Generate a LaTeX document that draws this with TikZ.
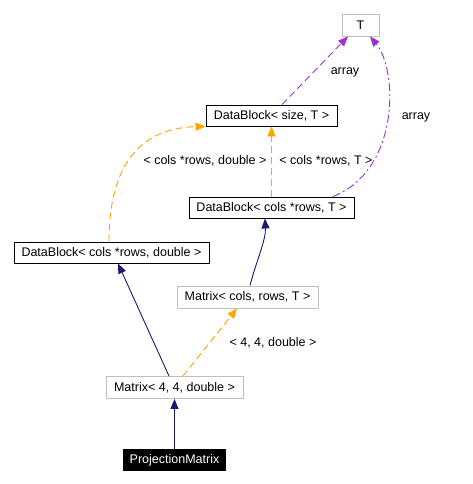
\documentclass[tikz,border=0pt]{standalone}
\usepackage{fontspec}
\setmainfont{Liberation Sans}
\usetikzlibrary{arrows.meta}
\definecolor{edgeblue}{HTML}{191970}
\definecolor{edgeorange}{HTML}{FFA500}
\definecolor{edgepurple}{HTML}{9A32CD}
\definecolor{boxgray}{HTML}{BFBFBF}
\begin{document}
\begin{tikzpicture}[
      x = 1pt, y = -1pt,
      font = \fontsize{12.5}{14}\selectfont,
      cls/.style = {
        rectangle,
        draw = black, line width = 0.9pt,
        inner sep = 0pt,
        minimum height = 21pt,
      },
      tmpl/.style = {
        rectangle,
        draw = boxgray, line width = 0.9pt,
        inner sep = 0pt,
        minimum height = 22pt,
      },
      self/.style = {
        rectangle,
        fill = black,
        text = white,
        inner sep = 0pt,
        minimum height = 22pt,
      },
      inherit/.style = {
        draw = edgeblue, line width = 0.9pt,
        -{Triangle[length = 10pt, width = 8pt]},
      },
      spec/.style = {
        draw = edgeorange, line width = 0.9pt,
        dash pattern = on 7pt off 4pt,
        -{Triangle[length = 10pt, width = 8pt]},
      },
      use/.style = {
        draw = edgepurple, line width = 0.9pt,
        dash pattern = on 7pt off 4pt,
        -{Triangle[length = 10pt, width = 8pt]},
      },
      tag/.style = {
        inner sep = 0pt,
      }
    ]
    \useasboundingbox (0,0) rectangle (473,484);
    \node[tmpl, minimum width = 37pt] (T) at (360.5,25) {T};
    \node[cls, minimum width = 131pt] (dbs) at (271.5,115.5) {DataBlock< size, T >};
    \node[cls, minimum width = 165pt] (dbT) at (271.5,207.5) {DataBlock< cols *rows, T >};
    \node[cls, minimum width = 195pt] (dbd) at (111.5,252.5) {DataBlock< cols *rows, double >};
    \node[tmpl, minimum width = 141pt] (mT) at (247.5,297) {Matrix< cols, rows, T >};
    \node[tmpl, minimum width = 137pt] (m44) at (174.5,387.5) {Matrix< 4, 4, double >};
    \node[self, minimum width = 103pt] (proj) at (174.5,460) {ProjectionMatrix};
    % inheritance
    \draw[inherit] (proj.north) -- (m44.south);
    \draw[inherit] ([xshift=-5.5pt]m44.north) -- ([xshift=6.5pt]dbd.south);
    \draw[inherit] ([xshift=2.5pt]mT.north) .. controls (256,262) and (266,240) .. ([xshift=-6.5pt]dbT.south);
    % template instances
    \draw[spec] ([xshift=8.5pt]m44.north) -- ([xshift=-10.5pt]mT.south)
      node[tag] at (273,343) {< 4, 4, double >};
    \draw[spec] ([xshift=-2.5pt]dbd.north) .. controls (109,165) and (140,128) .. (dbs.south west)
      node[tag] at (205,161) {< cols *rows, double >};
    \draw[spec] (dbT.north) -- (dbs.south)
      node[tag] at (326,161) {< cols *rows, T >};
    % members
    \draw[use] ([xshift=10.5pt]dbs.north) -- ([xshift=-12.5pt]T.south)
      node[tag] at (345,72) {array};
    \draw[use, dash pattern = on 8pt off 3pt on 2pt off 3pt]
      ([xshift=61.5pt]dbT.north) .. controls (400,170) and (398,70) .. ([xshift=9.5pt]T.south)
      node[tag] at (416,117) {array};
  \end{tikzpicture}
\end{document}
